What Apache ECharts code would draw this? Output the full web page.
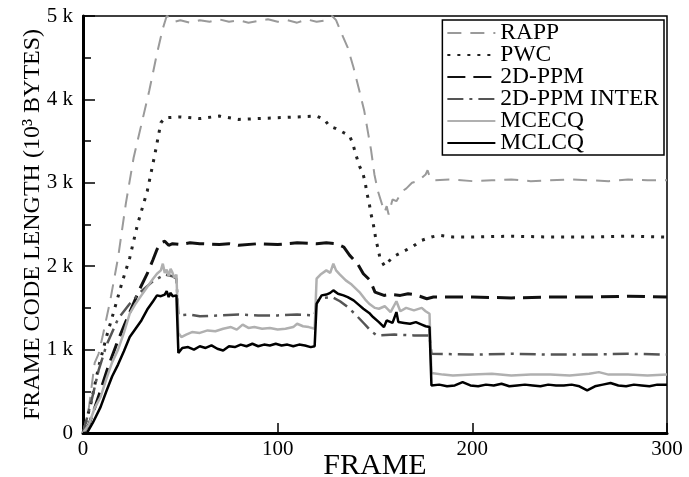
<!DOCTYPE html>
<html lang="en">

<head>
  <meta charset="UTF-8">
  <title>Frame code length</title>
  <script src="https://cdn.jsdelivr.net/npm/echarts@6/dist/echarts.min.js"></script>
  <style>
    html, body { margin: 0; padding: 0; background: #fff; }
    #main { width: 689px; height: 477px; }
  </style>
</head>

<body>
  <div id="main"></div>
</body>
<script>
  // values: [frame, code length in 10^3 bytes]
  let seriesNames = ['RAPP', 'PWC', '2D-PPM', '2D-PPM INTER', 'MCECQ', 'MCLCQ']
  let yTicks = [0, 1, 2, 3, 4, 5]
  let xTicks = [0, 100, 200, 300]

  let rapp = [
    [0, 0], [3, 0.3], [6, 0.84], [8, 0.95], [10, 1.15], [14, 1.59], [18, 2.1], [22, 2.75], [26, 3.3],
    [30, 3.7], [34, 4.1], [38, 4.55], [41, 4.85], [43, 5.0], [45, 4.98], [47, 4.93], [50, 4.95],
    [55, 4.92], [60, 4.95], [65, 4.93], [70, 4.96], [75, 4.93], [80, 4.95], [85, 4.92], [90, 4.94],
    [95, 4.96], [100, 4.93], [105, 4.95], [110, 4.92], [115, 4.96], [120, 4.93], [125, 4.95],
    [128, 5.0], [130, 4.95], [133, 4.78], [136, 4.62], [139, 4.38], [142, 4.1], [144.5, 3.86],
    [146.5, 3.59], [148, 3.39], [149.7, 3.1], [151.5, 2.9], [153.5, 2.75], [155, 2.65], [156, 2.72],
    [157, 2.62], [159, 2.8], [161, 2.78], [164, 2.9], [166, 2.93], [169, 3.0], [172, 3.02],
    [174, 3.06], [176, 3.1], [177, 3.15], [178, 3.08], [180, 3.03], [190, 3.04], [200, 3.02],
    [210, 3.03], [220, 3.04], [230, 3.02], [240, 3.03], [250, 3.04], [260, 3.03], [270, 3.02],
    [280, 3.04], [290, 3.03], [300, 3.03]
  ]
  let pwc = [
    [0, 0], [4, 0.35], [8, 0.79], [12, 1.15], [16, 1.47], [20, 1.8], [24, 2.1], [28, 2.5], [33, 2.9],
    [37, 3.35], [40, 3.72], [42, 3.78], [50, 3.79], [60, 3.77], [70, 3.8], [80, 3.76], [90, 3.77],
    [100, 3.78], [110, 3.79], [120, 3.8], [124, 3.76], [126.5, 3.68], [130, 3.65], [134, 3.6],
    [137, 3.56], [138.6, 3.47], [140, 3.35], [142, 3.2], [143.7, 3.12], [145, 3.0], [145.8, 2.88],
    [147, 2.76], [147.8, 2.64], [149, 2.52], [149.7, 2.43], [150.5, 2.31], [151.5, 2.22],
    [152.6, 2.09], [155, 2.0], [159, 2.11], [164, 2.17], [169, 2.23], [174, 2.31], [179, 2.35],
    [183, 2.37], [190, 2.35], [200, 2.35], [220, 2.36], [240, 2.35], [260, 2.35], [280, 2.36], [300, 2.35]
  ]
  let ppm = [
    [0, 0], [3, 0.1], [6, 0.3], [9, 0.51], [13, 0.8], [17, 1.05], [21.5, 1.31], [25, 1.5],
    [29, 1.72], [33, 1.91], [36, 2.08], [38, 2.2], [40, 2.28], [42, 2.3], [44, 2.25], [46, 2.27],
    [50, 2.26], [55, 2.28], [60, 2.27], [70, 2.26], [75, 2.27], [80, 2.25], [90, 2.27], [100, 2.26],
    [110, 2.28], [120, 2.27], [125, 2.28], [130, 2.27], [134, 2.23], [137, 2.13], [141, 2.03],
    [144, 1.91], [147.5, 1.83], [150, 1.69], [154.6, 1.65], [158, 1.66], [163, 1.65], [167, 1.67],
    [170, 1.66], [173, 1.64], [176.6, 1.61], [180, 1.63], [200, 1.63], [220, 1.62], [240, 1.63],
    [260, 1.63], [280, 1.64], [300, 1.63]
  ]
  let ppmInter = [
    [0, 0], [4, 0.35], [8, 0.75], [12, 1.05], [18, 1.37], [24, 1.55], [30, 1.7], [36, 1.82],
    [42, 1.9], [46, 1.88], [48, 1.85], [49, 1.41], [55, 1.42], [60, 1.4], [70, 1.41], [80, 1.42],
    [90, 1.41], [100, 1.41], [110, 1.42], [119, 1.41], [120, 1.58], [124, 1.62], [128, 1.63],
    [132, 1.58], [136, 1.51], [140, 1.42], [144.5, 1.31], [148, 1.22], [151, 1.17], [160, 1.18],
    [170, 1.17], [178, 1.17], [179, 0.95], [200, 0.94], [220, 0.95], [240, 0.94], [260, 0.94],
    [280, 0.95], [300, 0.94]
  ]
  let mcecq = [
    [0, 0], [3, 0.1], [6, 0.3], [9, 0.43], [12, 0.65], [15, 0.85], [18, 1.0], [21, 1.2], [24, 1.43],
    [27, 1.55], [30, 1.65], [33, 1.75], [36, 1.85], [38, 1.91], [40, 1.95], [41, 2.03], [42, 1.92],
    [43, 1.96], [44, 1.88], [45, 1.97], [46, 1.92], [47, 1.86], [48, 1.9], [49, 1.2], [50.5, 1.15],
    [53, 1.18], [56, 1.21], [60, 1.2], [64, 1.23], [68, 1.22], [72, 1.25], [76, 1.27], [79, 1.24],
    [82, 1.3], [85, 1.26], [88, 1.27], [92, 1.25], [96, 1.26], [100, 1.24], [104, 1.25], [108, 1.27],
    [110, 1.31], [113, 1.28], [116, 1.27], [119, 1.25], [120, 1.85], [122, 1.9], [125, 1.95],
    [127, 1.92], [128.6, 2.03], [130, 1.95], [132, 1.9], [135, 1.83], [138, 1.78], [142, 1.69],
    [145, 1.6], [147, 1.55], [150, 1.5], [152, 1.49], [155, 1.52], [158, 1.45], [161, 1.58],
    [163, 1.46], [166, 1.5], [170, 1.47], [174, 1.5], [176, 1.46], [178, 1.43], [179, 0.72],
    [185, 0.7], [190, 0.69], [200, 0.7], [210, 0.71], [220, 0.69], [230, 0.7], [240, 0.7],
    [250, 0.69], [260, 0.71], [265, 0.73], [270, 0.7], [280, 0.7], [290, 0.69], [300, 0.7]
  ]
  let mclcq = [
    [0, 0], [2, 0], [5, 0.12], [9, 0.31], [12, 0.5], [15, 0.68], [18, 0.82], [21, 0.98], [24, 1.15],
    [27, 1.25], [30, 1.35], [33, 1.48], [36, 1.58], [38, 1.65], [40, 1.64], [42, 1.66], [43, 1.7],
    [44, 1.63], [45, 1.68], [46, 1.64], [48, 1.65], [49, 0.96], [51, 1.02], [54, 1.03], [57, 1.0],
    [60, 1.04], [63, 1.02], [66, 1.05], [69, 1.01], [72, 0.99], [75, 1.04], [78, 1.03], [81, 1.06],
    [84, 1.04], [87, 1.07], [90, 1.04], [93, 1.06], [96, 1.05], [99, 1.07], [102, 1.05], [105, 1.06],
    [108, 1.04], [111, 1.06], [114, 1.05], [117, 1.03], [119, 1.04], [120, 1.55], [122.6, 1.65],
    [125, 1.66], [127, 1.68], [128.6, 1.71], [131, 1.67], [133.8, 1.65], [136, 1.63], [139, 1.59],
    [142, 1.53], [144, 1.49], [147, 1.44], [149, 1.39], [152, 1.33], [154.6, 1.27], [156, 1.35],
    [159, 1.32], [161, 1.45], [162, 1.33], [165, 1.32], [168, 1.31], [171, 1.33], [174, 1.3],
    [176, 1.28], [178, 1.27], [179, 0.57], [183, 0.58], [187, 0.56], [191, 0.57], [195, 0.61],
    [199, 0.57], [203, 0.56], [207, 0.58], [211, 0.57], [215, 0.59], [219, 0.56], [223, 0.57],
    [227, 0.58], [231, 0.57], [235, 0.56], [239, 0.58], [243, 0.57], [247, 0.57], [251, 0.58],
    [255, 0.56], [259, 0.51], [263, 0.56], [267, 0.58], [271, 0.6], [275, 0.57], [279, 0.56],
    [283, 0.58], [287, 0.57], [291, 0.56], [295, 0.58], [300, 0.58]
  ]

  let seriesData = [rapp, pwc, ppm, ppmInter, mcecq, mclcq]
  let lineStyles = [
    { color: '#9a9a9a', width: 2, type: [14, 9] },
    { color: '#222', width: 3, type: [3, 7] },
    { color: '#111', width: 3, type: [18, 8] },
    { color: '#555', width: 2.5, type: [16, 6, 3, 6] },
    { color: '#b0b0b0', width: 2.5, type: 'solid' },
    { color: '#000', width: 2.5, type: 'solid' }
  ]
  let font = 'Liberation Serif'

  initChart()

  function initChart() {
    let myChart = echarts.init(document.getElementById('main'))
    let option = {
      animation: false,
      grid: {
        left: 83, right: 22, top: 16, bottom: 44,
        outerBoundsMode: 'none',
        containLabel: false,
        show: true, borderColor: '#000', borderWidth: 1.5
      },
      legend: {
        orient: 'vertical',
        right: 25,
        top: 20,
        itemWidth: 48,
        itemHeight: 14,
        itemGap: -2,
        padding: [1, 5, 0, 4],
        borderColor: '#000',
        borderWidth: 1.5,
        backgroundColor: '#fff',
        itemStyle: { opacity: 0 },
        textStyle: { fontFamily: font, fontSize: 23.5, color: '#000' },
        data: seriesNames
      },
      xAxis: {
        type: 'value',
        min: xTicks[0],
        max: xTicks[xTicks.length - 1],
        interval: 100,
        name: 'FRAME',
        nameLocation: 'middle',
        nameGap: 18,
        nameMoveOverlap: false,
        nameTextStyle: { fontFamily: font, fontSize: 30, color: '#000' },
        axisLine: { lineStyle: { color: '#000', width: 3 } },
        axisTick: { inside: true, length: 10, lineStyle: { color: '#000', width: 1.5 } },
        axisLabel: { fontFamily: font, fontSize: 21, color: '#000', margin: 6 },
        splitLine: { show: false }
      },
      yAxis: {
        type: 'value',
        min: yTicks[0],
        max: yTicks[yTicks.length - 1],
        interval: 1,
        name: 'FRAME CODE LENGTH (10³ BYTES)',
        nameLocation: 'middle',
        nameGap: 38,
        nameMoveOverlap: false,
        nameTextStyle: { fontFamily: font, fontSize: 24, color: '#000' },
        axisLine: { lineStyle: { color: '#000', width: 3 } },
        axisTick: { inside: true, length: 12, lineStyle: { color: '#000', width: 1.5 } },
        minorTick: { show: true, splitNumber: 2, length: 8, lineStyle: { color: '#000', width: 1.5 } },
        axisLabel: {
          fontFamily: font, fontSize: 21, color: '#000', margin: 10,
          formatter: v => v === 0 ? '0' : v + ' k'
        },
        splitLine: { show: false }
      },
      series: seriesNames.map((name, i) => ({
        name: name,
        type: 'line',
        data: seriesData[i],
        symbol: 'none',
        z: 2 + i,
        lineStyle: lineStyles[i],
        itemStyle: { color: lineStyles[i].color }
      }))
    }
    myChart.setOption(option)
  }
</script>

</html>
